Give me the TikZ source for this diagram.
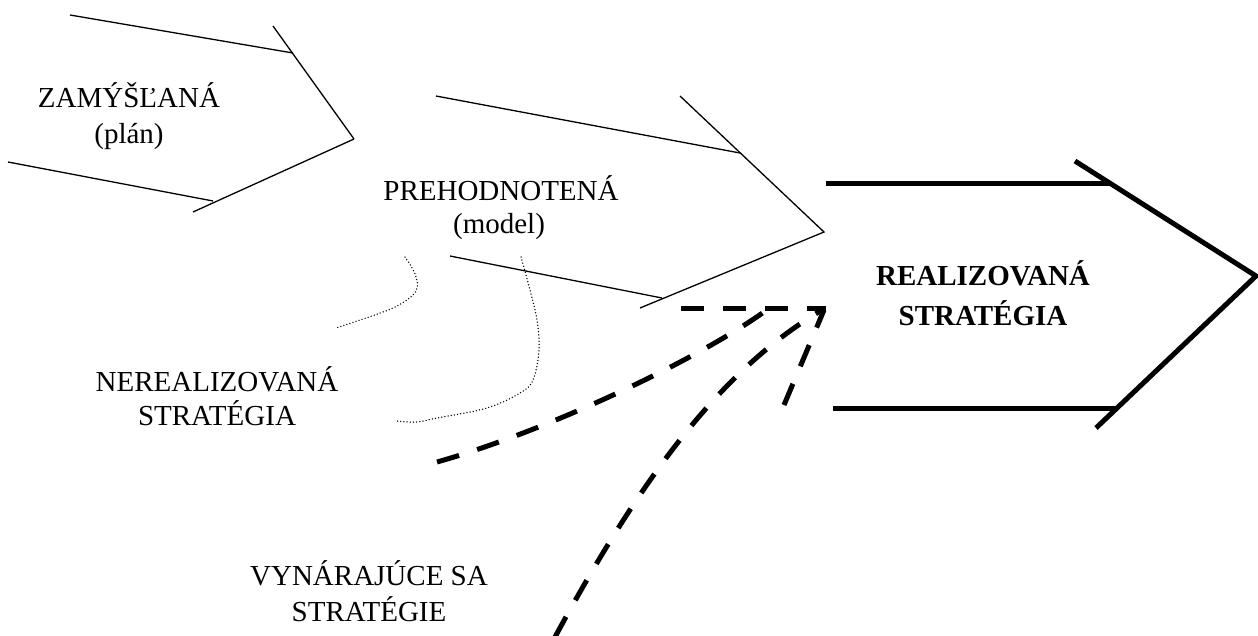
\documentclass[tikz,border=0pt]{standalone}
\usepackage{fontspec}
\setmainfont{Liberation Serif}
\begin{document}
\begin{tikzpicture}[x=1pt,y=-1pt,
  thinline/.style={line width=1.3pt},
  thickline/.style={line width=5pt, miter limit=20},
  dashline/.style={line width=5pt, dash pattern=on 23pt off 19pt},
  dotline/.style={line width=1.5pt, line cap=round, dash pattern=on 0pt off 3.2pt},
  lbl/.style={inner sep=0pt, anchor=base, font=\fontsize{29}{31}\selectfont},
  blbl/.style={lbl, font=\fontsize{29}{31}\selectfont\bfseries}]
\useasboundingbox (0,0) rectangle (1258,635);

% --- intended (plan) arrow
\coordinate (p1a) at (70,15);   \coordinate (p1b) at (293,53);
\coordinate (p1c) at (273,26);  \coordinate (p1t) at (354,139);
\coordinate (p1d) at (193,212); \coordinate (p1e) at (8,162);
\coordinate (p1f) at (213,201);
\draw[thinline] (p1a) -- (p1b);
\draw[thinline] (p1c) -- (p1t);
\draw[thinline] (p1d) -- (p1t);
\draw[thinline] (p1e) -- (p1f);

% --- reassessed (model) arrow
\coordinate (p2a) at (436,96);  \coordinate (p2b) at (740,153);
\coordinate (p2c) at (680,96);  \coordinate (p2t) at (824,232);
\coordinate (p2d) at (640,308); \coordinate (p2e) at (450,256);
\coordinate (p2f) at (662,298);
\draw[thinline] (p2a) -- (p2b);
\draw[thinline] (p2c) -- (p2t) -- (p2d);
\draw[thinline] (p2e) -- (p2f);

% --- realized strategy arrow
\coordinate (p3a) at (826,183); \coordinate (p3b) at (1110,183);
\coordinate (p3c) at (1075,161); \coordinate (p3t) at (1256,276);
\coordinate (p3d) at (1096,428); \coordinate (p3e) at (833,408);
\coordinate (p3f) at (1116,408);
\draw[thickline] (p3a) -- (p3b);
\draw[thickline] (p3c) -- (p3t) -- (p3d);
\draw[thickline] (p3e) -- (p3f);

% --- emergent (dashed) lines
\coordinate (hd0) at (681,308); \coordinate (hd1) at (826,308);
\coordinate (ca0) at (437,462); \coordinate (ca1) at (772,306);
\coordinate (cb0) at (555,637); \coordinate (cb1) at (822,310);
\coordinate (lc0) at (784,405); \coordinate (lc1) at (824,310);
\draw[dashline] (hd0) -- (hd1);
\draw[dashline] (ca0) .. controls (557,428) and (712,352) .. (ca1);
\draw[dashline] (cb0) .. controls (640,480) and (720,370) .. (cb1);
\draw[dashline] (lc0) -- (lc1);

% --- unrealized (dotted) curves
\draw[dotline] plot[smooth, tension=0.6] coordinates
  {(405,257) (415,274) (416,291) (397,306) (366,318) (336,328)};
\draw[dotline] plot[smooth, tension=0.6] coordinates
  {(521,257) (530,290) (537,320) (539,350) (533,380) (520,393) (487,408) (437,418) (417,422) (397,421)};

% --- labels
\node[lbl] (zam1) at (129,107) {ZAMÝŠĽANÁ};
\node[lbl] (zam2) at (129,143) {(plán)};
\node[lbl] (pre1) at (501,200) {PREHODNOTENÁ};
\node[lbl] (pre2) at (499,233) {(model)};
\node[lbl] (ner1) at (217,391) {NEREALIZOVANÁ};
\node[lbl] (ner2) at (217,425) {STRATÉGIA};
\node[lbl] (vyn1) at (369,585) {VYNÁRAJÚCE SA};
\node[lbl] (vyn2) at (369,621) {STRATÉGIE};
\node[blbl] (rea1) at (983,285) {REALIZOVANÁ};
\node[blbl] (rea2) at (983,325) {STRATÉGIA};
\end{tikzpicture}
\end{document}
